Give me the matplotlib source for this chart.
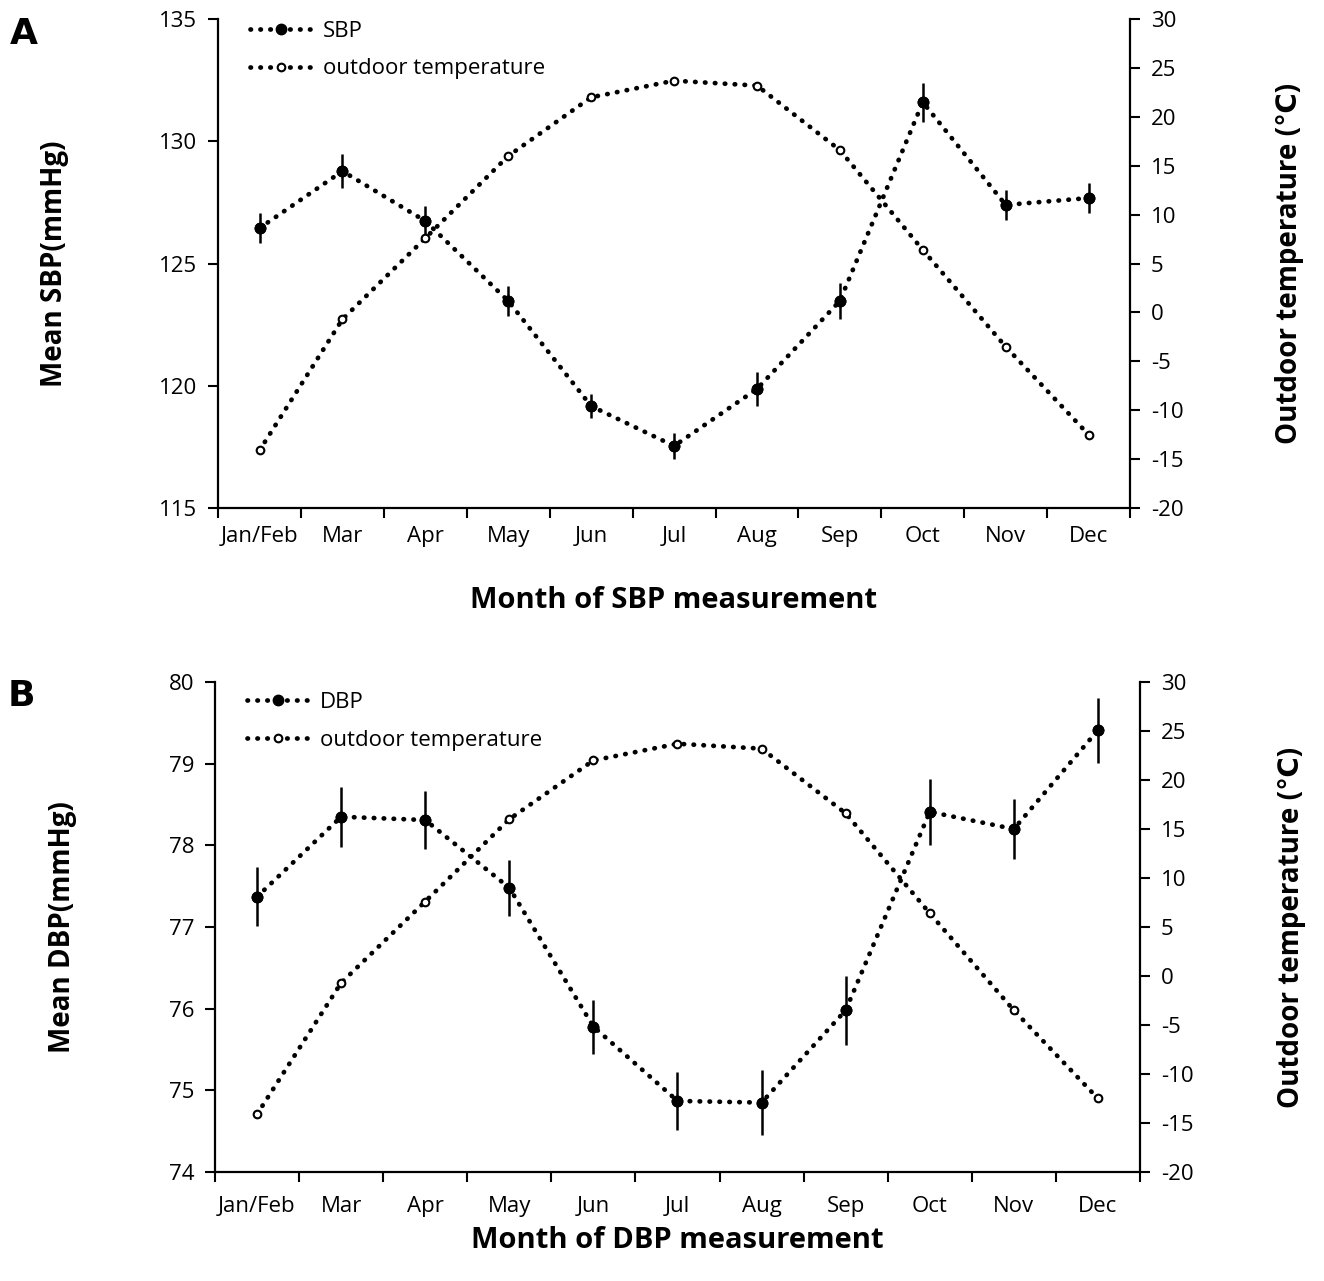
import numpy as np
import matplotlib
matplotlib.use('Agg')
import matplotlib.pyplot as plt

plt.rcParams['font.family'] = ['Open Sans', 'DejaVu Sans']
plt.rcParams['axes.unicode_minus'] = False

# data
months = ['Jan/Feb', 'Mar', 'Apr', 'May', 'Jun', 'Jul', 'Aug', 'Sep', 'Oct', 'Nov', 'Dec']
sbp = [126.45, 128.78, 126.74, 123.47, 119.17, 117.54, 119.87, 123.47, 131.6, 127.4, 127.68]
sbp_err = [0.6, 0.7, 0.6, 0.6, 0.5, 0.55, 0.7, 0.75, 0.8, 0.6, 0.6]
dbp = [77.37, 78.35, 78.31, 77.48, 75.78, 74.87, 74.85, 75.98, 78.41, 78.2, 79.41]
dbp_err = [0.36, 0.37, 0.36, 0.34, 0.33, 0.36, 0.4, 0.42, 0.4, 0.37, 0.4]
temp = [-14.1, -0.7, 7.6, 16.0, 22.0, 23.7, 23.2, 16.6, 6.4, -3.5, -12.5]

dots = (0, (0.1, 2.0))
TS = 16


def panel(rect, bp, bp_err, name, ylim, yticks, xlab_y, ylx, yrx, letter, leg_y, xpad):
    ax = fig.add_axes(rect)
    x = np.arange(len(months))
    ax.errorbar(x, bp, yerr=bp_err, fmt='o', color='black', ms=7.5, elinewidth=1.8,
                capsize=0, zorder=3)
    l1, = ax.plot(x, bp, linestyle=dots, color='black', lw=3.4, dash_capstyle='round',
                  marker='o', ms=7.5, mfc='black', label=name, zorder=3)
    ax.set_xlim(-0.5, 10.5)
    ax.set_ylim(*ylim)
    ax.set_yticks(yticks)
    ax.set_xticks(np.arange(-0.5, 11), labels=[])
    ax.set_xticks(x, labels=months, minor=True)
    ax.tick_params(axis='x', which='minor', length=0, pad=xpad, labelsize=TS)
    ax.tick_params(axis='x', which='major', length=7, width=1.5, direction='out')
    ax.tick_params(axis='y', length=7, width=1.5, direction='out', labelsize=TS, pad=8)
    ax.spines['top'].set_visible(False)
    ax.spines['right'].set_visible(False)
    for s in ['left', 'bottom']:
        ax.spines[s].set_linewidth(1.6)

    ax2 = ax.twinx()
    l2, = ax2.plot(x, temp, linestyle=dots, color='black', lw=3.4, dash_capstyle='round',
                   marker='o', ms=5.5, mfc='white', mew=1.5, label='outdoor temperature')
    ax2.set_ylim(-20, 30)
    ax2.set_yticks(np.arange(-20, 31, 5))
    ax2.tick_params(axis='y', length=7, width=1.5, direction='out', labelsize=TS, pad=8)
    ax2.spines['top'].set_visible(False)
    ax2.spines['left'].set_visible(False)
    ax2.spines['bottom'].set_visible(False)
    ax2.spines['right'].set_linewidth(1.6)

    ax.set_xlabel('Month of %s measurement' % name, fontsize=21, fontweight='bold')
    ax.xaxis.set_label_coords(0.5, xlab_y)
    ax.xaxis.label.set_va('center')
    ax.set_ylabel('Mean %s(mmHg)' % name, fontsize=20, fontweight='bold')
    ax.yaxis.set_label_coords(ylx, 0.5)
    ax.yaxis.label.set_va('center')
    ax2.set_ylabel('Outdoor temperature (\u2103)', fontsize=20, fontweight='bold',
                   rotation=90)
    ax2.yaxis.set_label_coords(yrx, 0.5)
    ax2.yaxis.label.set_va('center')

    ax.legend([l1, l2], [name, 'outdoor temperature'], loc='upper left', frameon=False,
              fontsize=TS, handlelength=2.8, borderaxespad=0.0, labelspacing=0.75,
              handletextpad=0.5, bbox_to_anchor=(0.025, leg_y))
    fig.text(rect[0] - 0.157, rect[1] + rect[3] + 0.002, letter, fontsize=26,
             fontweight='bold', family=['DejaVu Sans'], va='top')
    return ax


fig = plt.figure(figsize=(13.24, 12.81), dpi=100)
panel([0.1647, 0.6034, 0.6888, 0.3817], sbp, sbp_err, 'SBP', (115, 135),
      np.arange(115, 136, 5), -0.19, -0.179, 1.175, 'A', 1.015, 13)
panel([0.1624, 0.0851, 0.6986, 0.3825], dbp, dbp_err, 'DBP', (74, 80),
      np.arange(74, 81, 1), -0.14, -0.165, 1.164, 'B', 0.998, 17)

fig.savefig('out.png', dpi=100)
